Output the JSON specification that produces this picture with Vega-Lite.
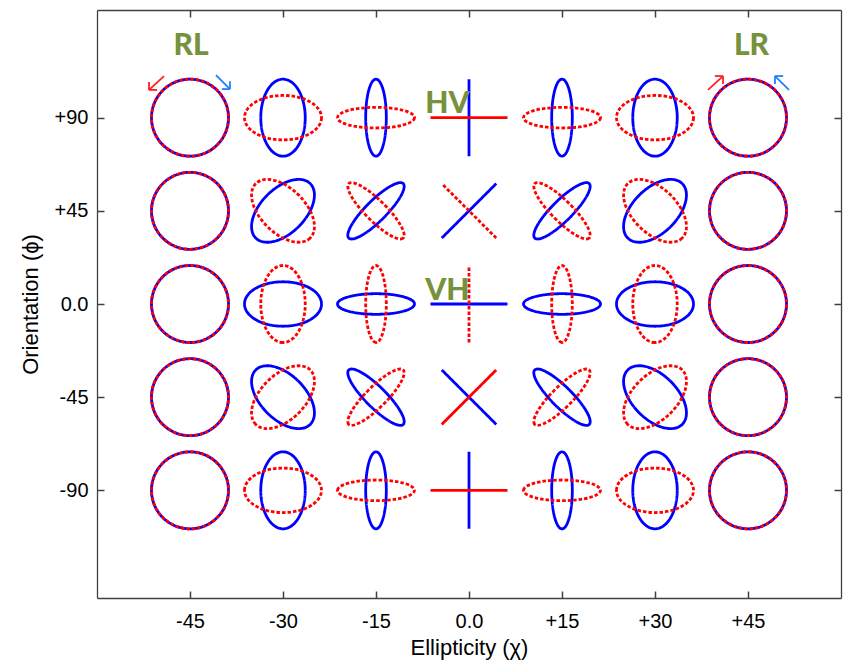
{
  "$schema": "https://vega.github.io/schema/vega-lite/v6.json",
  "width": 744,
  "height": 588,
  "autosize": {"type": "none"},
  "padding": {"left": 97, "top": 10, "right": 6, "bottom": 65},
  "background": "white",
  "config": {
    "view": {"stroke": null},
    "axis": {
      "grid": false,
      "domainColor": "#404040",
      "domainWidth": 1.3,
      "tickColor": "#404040",
      "tickWidth": 1.5,
      "labelFont": "Liberation Sans",
      "labelFontSize": 20,
      "labelColor": "#000000",
      "titleFont": "Liberation Sans",
      "titleFontSize": 22,
      "titleFontWeight": "normal",
      "titleColor": "#000000"
    }
  },
  "datasets": {
    "ellipses": [
      {"chi": -45, "phi": 90, "orient": 90, "series": "co-pol"},
      {"chi": -30, "phi": 90, "orient": 90, "series": "co-pol"},
      {"chi": -15, "phi": 90, "orient": 90, "series": "co-pol"},
      {"chi": 0, "phi": 90, "orient": 90, "series": "co-pol"},
      {"chi": 15, "phi": 90, "orient": 90, "series": "co-pol"},
      {"chi": 30, "phi": 90, "orient": 90, "series": "co-pol"},
      {"chi": 45, "phi": 90, "orient": 90, "series": "co-pol"},
      {"chi": -45, "phi": 45, "orient": 45, "series": "co-pol"},
      {"chi": -30, "phi": 45, "orient": 45, "series": "co-pol"},
      {"chi": -15, "phi": 45, "orient": 45, "series": "co-pol"},
      {"chi": 0, "phi": 45, "orient": 45, "series": "co-pol"},
      {"chi": 15, "phi": 45, "orient": 45, "series": "co-pol"},
      {"chi": 30, "phi": 45, "orient": 45, "series": "co-pol"},
      {"chi": 45, "phi": 45, "orient": 45, "series": "co-pol"},
      {"chi": -45, "phi": 0, "orient": 0, "series": "co-pol"},
      {"chi": -30, "phi": 0, "orient": 0, "series": "co-pol"},
      {"chi": -15, "phi": 0, "orient": 0, "series": "co-pol"},
      {"chi": 0, "phi": 0, "orient": 0, "series": "co-pol"},
      {"chi": 15, "phi": 0, "orient": 0, "series": "co-pol"},
      {"chi": 30, "phi": 0, "orient": 0, "series": "co-pol"},
      {"chi": 45, "phi": 0, "orient": 0, "series": "co-pol"},
      {"chi": -45, "phi": -45, "orient": -45, "series": "co-pol"},
      {"chi": -30, "phi": -45, "orient": -45, "series": "co-pol"},
      {"chi": -15, "phi": -45, "orient": -45, "series": "co-pol"},
      {"chi": 0, "phi": -45, "orient": -45, "series": "co-pol"},
      {"chi": 15, "phi": -45, "orient": -45, "series": "co-pol"},
      {"chi": 30, "phi": -45, "orient": -45, "series": "co-pol"},
      {"chi": 45, "phi": -45, "orient": -45, "series": "co-pol"},
      {"chi": -45, "phi": -90, "orient": -90, "series": "co-pol"},
      {"chi": -30, "phi": -90, "orient": -90, "series": "co-pol"},
      {"chi": -15, "phi": -90, "orient": -90, "series": "co-pol"},
      {"chi": 0, "phi": -90, "orient": -90, "series": "co-pol"},
      {"chi": 15, "phi": -90, "orient": -90, "series": "co-pol"},
      {"chi": 30, "phi": -90, "orient": -90, "series": "co-pol"},
      {"chi": 45, "phi": -90, "orient": -90, "series": "co-pol"},
      {"chi": -45, "phi": 90, "orient": 180, "series": "cross-pol"},
      {"chi": -30, "phi": 90, "orient": 180, "series": "cross-pol"},
      {"chi": -15, "phi": 90, "orient": 180, "series": "cross-pol"},
      {"chi": 0, "phi": 90, "orient": 180, "series": "cross-pol solid"},
      {"chi": 15, "phi": 90, "orient": 180, "series": "cross-pol"},
      {"chi": 30, "phi": 90, "orient": 180, "series": "cross-pol"},
      {"chi": 45, "phi": 90, "orient": 180, "series": "cross-pol"},
      {"chi": -45, "phi": 45, "orient": 135, "series": "cross-pol"},
      {"chi": -30, "phi": 45, "orient": 135, "series": "cross-pol"},
      {"chi": -15, "phi": 45, "orient": 135, "series": "cross-pol"},
      {"chi": 0, "phi": 45, "orient": 135, "series": "cross-pol"},
      {"chi": 15, "phi": 45, "orient": 135, "series": "cross-pol"},
      {"chi": 30, "phi": 45, "orient": 135, "series": "cross-pol"},
      {"chi": 45, "phi": 45, "orient": 135, "series": "cross-pol"},
      {"chi": -45, "phi": 0, "orient": 90, "series": "cross-pol"},
      {"chi": -30, "phi": 0, "orient": 90, "series": "cross-pol"},
      {"chi": -15, "phi": 0, "orient": 90, "series": "cross-pol"},
      {"chi": 0, "phi": 0, "orient": 90, "series": "cross-pol"},
      {"chi": 15, "phi": 0, "orient": 90, "series": "cross-pol"},
      {"chi": 30, "phi": 0, "orient": 90, "series": "cross-pol"},
      {"chi": 45, "phi": 0, "orient": 90, "series": "cross-pol"},
      {"chi": -45, "phi": -45, "orient": 45, "series": "cross-pol"},
      {"chi": -30, "phi": -45, "orient": 45, "series": "cross-pol"},
      {"chi": -15, "phi": -45, "orient": 45, "series": "cross-pol"},
      {"chi": 0, "phi": -45, "orient": 45, "series": "cross-pol solid"},
      {"chi": 15, "phi": -45, "orient": 45, "series": "cross-pol"},
      {"chi": 30, "phi": -45, "orient": 45, "series": "cross-pol"},
      {"chi": 45, "phi": -45, "orient": 45, "series": "cross-pol"},
      {"chi": -45, "phi": -90, "orient": 0, "series": "cross-pol"},
      {"chi": -30, "phi": -90, "orient": 0, "series": "cross-pol"},
      {"chi": -15, "phi": -90, "orient": 0, "series": "cross-pol"},
      {"chi": 0, "phi": -90, "orient": 0, "series": "cross-pol solid"},
      {"chi": 15, "phi": -90, "orient": 0, "series": "cross-pol"},
      {"chi": 30, "phi": -90, "orient": 0, "series": "cross-pol"},
      {"chi": 45, "phi": -90, "orient": 0, "series": "cross-pol"}
    ],
    "arrows": [
      {"x": -49.19, "y": 110.1, "x2": -51.61, "y2": 103.4, "pol": "cross-pol"},
      {"x": -51.61, "y": 103.4, "x2": -50.3, "y2": 103.4, "pol": "cross-pol"},
      {"x": -51.61, "y": 103.4, "x2": -51.61, "y2": 107.2, "pol": "cross-pol"},
      {"x": -40.81, "y": 110.6, "x2": -38.55, "y2": 103.8, "pol": "co-pol"},
      {"x": -38.55, "y": 103.8, "x2": -39.86, "y2": 103.8, "pol": "co-pol"},
      {"x": -38.55, "y": 103.8, "x2": -38.55, "y2": 107.6, "pol": "co-pol"},
      {"x": 38.55, "y": 103.4, "x2": 40.97, "y2": 110.1, "pol": "cross-pol"},
      {"x": 40.97, "y": 110.1, "x2": 39.66, "y2": 110.1, "pol": "cross-pol"},
      {"x": 40.97, "y": 110.1, "x2": 40.97, "y2": 106.3, "pol": "cross-pol"},
      {"x": 51.61, "y": 103.4, "x2": 49.35, "y2": 110.1, "pol": "co-pol"},
      {"x": 49.35, "y": 110.1, "x2": 50.66, "y2": 110.1, "pol": "co-pol"},
      {"x": 49.35, "y": 110.1, "x2": 49.35, "y2": 106.3, "pol": "co-pol"}
    ],
    "labels": [
      {"label": "RL", "x": -44.84, "y": 120.3},
      {"label": "LR", "x": 45.56, "y": 120.3},
      {"label": "HV", "x": -3.5, "y": 92.25},
      {"label": "VH", "x": -3.5, "y": 1.93}
    ]
  },
  "layer": [
    {
      "data": {"name": "ellipses"},
      "mark": {"type": "point", "filled": false, "size": 5929, "strokeWidth": 2.8, "opacity": 1, "strokeCap": "butt"},
      "encoding": {
        "x": {
          "field": "chi", "type": "quantitative",
          "scale": {"domain": [-60, 60], "nice": false, "zero": false},
          "axis": {
            "orient": "bottom",
            "values": [-45, -30, -15, 0, 15, 30, 45],
            "labelExpr": "datum.value == 0 ? '0.0' : (datum.value > 0 ? '+' : '-') + abs(datum.value)",
            "tickSize": -7,
            "labelPadding": 20,
            "title": "Ellipticity (χ)",
            "titleBaseline": "alphabetic",
            "titleY": 56
          }
        },
        "y": {
          "field": "phi", "type": "quantitative",
          "scale": {"domain": [-142, 142], "nice": false, "zero": false},
          "axis": {
            "orient": "left",
            "values": [-90, -45, 0, 45, 90],
            "labelExpr": "datum.value == 0 ? '0.0' : (datum.value > 0 ? '+' : '-') + abs(datum.value)",
            "tickSize": -7,
            "labelPadding": 16,
            "title": "Orientation (ϕ)",
            "titleBaseline": "alphabetic",
            "titleX": -60
          }
        },
        "shape": {
          "field": "chi", "type": "ordinal", "legend": null,
          "scale": {
            "domain": [-45, -30, -15, 0, 15, 30, 45],
            "range": [
              "M-1,0C-1,-0.5523,-0.5523,-1,0,-1C0.5523,-1,1,-0.5523,1,0C1,0.5523,0.5523,1,0,1C-0.5523,1,-1,0.5523,-1,0Z",
              "M-1,0C-1,-0.3189,-0.5523,-0.5774,0,-0.5774C0.5523,-0.5774,1,-0.3189,1,0C1,0.3189,0.5523,0.5774,0,0.5774C-0.5523,0.5774,-1,0.3189,-1,0Z",
              "M-1,0C-1,-0.148,-0.5523,-0.2679,0,-0.2679C0.5523,-0.2679,1,-0.148,1,0C1,0.148,0.5523,0.2679,0,0.2679C-0.5523,0.2679,-1,0.148,-1,0Z",
              "M-1,0L1,0",
              "M-1,0C-1,-0.148,-0.5523,-0.2679,0,-0.2679C0.5523,-0.2679,1,-0.148,1,0C1,0.148,0.5523,0.2679,0,0.2679C-0.5523,0.2679,-1,0.148,-1,0Z",
              "M-1,0C-1,-0.3189,-0.5523,-0.5774,0,-0.5774C0.5523,-0.5774,1,-0.3189,1,0C1,0.3189,0.5523,0.5774,0,0.5774C-0.5523,0.5774,-1,0.3189,-1,0Z",
              "M-1,0C-1,-0.5523,-0.5523,-1,0,-1C0.5523,-1,1,-0.5523,1,0C1,0.5523,0.5523,1,0,1C-0.5523,1,-1,0.5523,-1,0Z"
            ]
          }
        },
        "angle": {
          "field": "orient", "type": "quantitative", "legend": null,
          "scale": {"domain": [-180, 180], "range": [180, -180], "nice": false, "zero": false}
        },
        "color": {
          "field": "series", "type": "nominal", "legend": null,
          "scale": {"domain": ["co-pol", "cross-pol", "cross-pol solid"], "range": ["#0000ff", "#ff0000", "#ff0000"]}
        },
        "strokeDash": {
          "field": "series", "type": "nominal", "legend": null,
          "scale": {"domain": ["co-pol", "cross-pol", "cross-pol solid"], "range": [[1, 0], [3.5, 2], [1, 0]]}
        }
      }
    },
    {
      "data": {"name": "arrows"},
      "mark": {"type": "rule", "strokeWidth": 1.8},
      "encoding": {
        "x": {"field": "x", "type": "quantitative", "axis": null},
        "y": {"field": "y", "type": "quantitative", "axis": null},
        "x2": {"field": "x2"},
        "y2": {"field": "y2"},
        "stroke": {
          "field": "pol", "type": "nominal", "legend": null,
          "scale": {"domain": ["co-pol", "cross-pol"], "range": ["#1e80ff", "#ff2020"]}
        }
      }
    },
    {
      "data": {"name": "labels"},
      "mark": {"type": "text", "font": "Lato", "fontWeight": 900, "fontSize": 30, "color": "#76923c", "align": "center", "baseline": "alphabetic"},
      "encoding": {
        "x": {
          "field": "x", "type": "quantitative",
          "axis": {"orient": "top", "values": [-45, -30, -15, 0, 15, 30, 45], "labels": false, "title": null, "tickSize": -7}
        },
        "y": {
          "field": "y", "type": "quantitative",
          "axis": {"orient": "right", "values": [-90, -45, 0, 45, 90], "labels": false, "title": null, "tickSize": -7}
        },
        "text": {"field": "label"}
      }
    }
  ],
  "resolve": {"axis": {"x": "independent", "y": "independent"}}
}
